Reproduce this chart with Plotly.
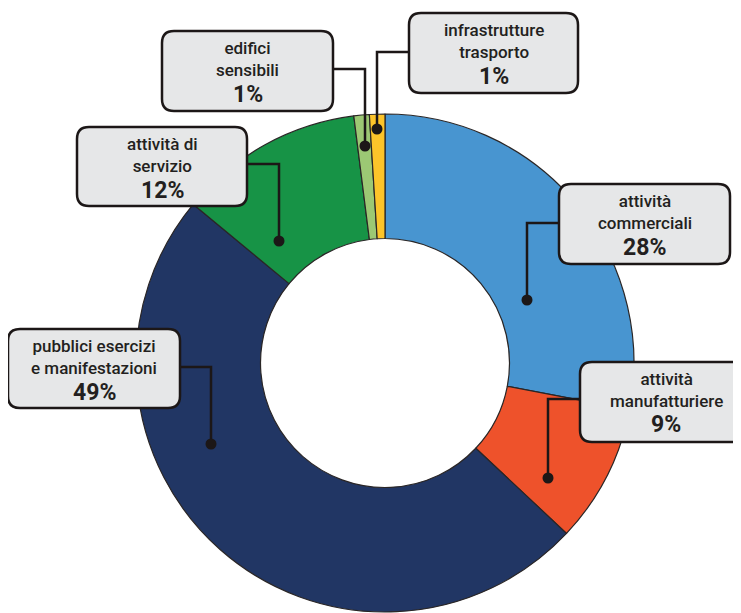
import plotly.graph_objects as go

# Data
categories = ["attività commerciali", "attività manufatturiere", "pubblici esercizi e manifestazioni",
              "attività di servizio", "edifici sensibili", "infrastrutture trasporto"]
line1 = ["attività", "attività", "pubblici esercizi", "attività di", "edifici", "infrastrutture"]
line2 = ["commerciali", "manufatturiere", "e manifestazioni", "servizio", "sensibili", "trasporto"]
values = [28, 9, 49, 12, 1, 1]
colors = ["#4895d0", "#ee522b", "#213664", "#179346", "#9cc874", "#fcc42a"]

# page is 741x613 but the body has an 8px margin, so the figure is drawn smaller and offset
OFF = 8
W, H = 741 - OFF, 613 - OFF
CX, CY, R = 385, 363, 249

# callout layout in page pixels: box (x0, y0, x1, y1), elbow x/y, dot y, side of box for the connector
callouts = [
    dict(box=(559, 184, 730, 264), ex=527, ey=223, dy=300, side="left"),
    dict(box=(580, 362, 752, 442), ex=548, ey=399, dy=478, side="left"),
    dict(box=(8, 329, 180, 408), ex=211, ey=367, dy=444, side="right"),
    dict(box=(77, 127, 247, 206), ex=279, ey=164, dy=241, side="right"),
    dict(box=(162, 31, 333, 111), ex=365, ey=69, dy=146, side="right"),
    dict(box=(409, 13, 578, 93), ex=377, ey=52, dy=129, side="left"),
]


def px(x):
    return (x - OFF) / W


def py(y):
    return 1 - (y - OFF) / H


def rounded_rect(x0, y0, x1, y1, r=12):
    pts = [
        f"M{px(x0 + r)},{py(y0)}",
        f"L{px(x1 - r)},{py(y0)}",
        f"Q{px(x1)},{py(y0)} {px(x1)},{py(y0 + r)}",
        f"L{px(x1)},{py(y1 - r)}",
        f"Q{px(x1)},{py(y1)} {px(x1 - r)},{py(y1)}",
        f"L{px(x0 + r)},{py(y1)}",
        f"Q{px(x0)},{py(y1)} {px(x0)},{py(y1 - r)}",
        f"L{px(x0)},{py(y0 + r)}",
        f"Q{px(x0)},{py(y0)} {px(x0 + r)},{py(y0)}",
        "Z",
    ]
    return " ".join(pts)


fig = go.Figure()
fig.add_trace(go.Pie(
    labels=categories, values=values, sort=False, direction="clockwise", rotation=0,
    hole=0.5, textinfo="none", hoverinfo="label+percent",
    marker=dict(colors=colors, line=dict(color="#2a2626", width=1.2)),
    domain=dict(x=[px(CX - R), px(CX + R)], y=[py(CY + R), py(CY - R)]),
    showlegend=False,
))

shapes = []
annotations = []
FONT = "Roboto, 'Noto Sans', sans-serif"
DARK = "#1c1717"
for c, l1, l2, v in zip(callouts, line1, line2, values):
    x0, y0, x1, y1 = c["box"]
    sx = x0 if c["side"] == "left" else x1
    # connector elbow and dot
    shapes.append(dict(type="path", xref="paper", yref="paper",
                       path=f"M{px(sx)},{py(c['ey'])} L{px(c['ex'])},{py(c['ey'])} L{px(c['ex'])},{py(c['dy'])}",
                       line=dict(color=DARK, width=2.5)))
    shapes.append(dict(type="circle", xref="paper", yref="paper",
                       x0=px(c["ex"] - 5.5), x1=px(c["ex"] + 5.5),
                       y0=py(c["dy"] + 5.5), y1=py(c["dy"] - 5.5),
                       fillcolor=DARK, line=dict(width=0)))
    # label box
    shapes.append(dict(type="path", xref="paper", yref="paper", path=rounded_rect(x0, y0, x1, y1),
                       fillcolor="#e6e7e8", line=dict(color=DARK, width=2.5)))
    xc = (x0 + x1) / 2
    annotations.append(dict(
        x=px(xc), y=py(y0 + 28), xref="paper", yref="paper", showarrow=False,
        text=f"{l1}<br>{l2}", xanchor="center", yanchor="middle", align="center",
        font=dict(family=FONT, size=17, color="#231f20", weight=500),
    ))
    annotations.append(dict(
        x=px(xc), y=py(y0 + 63), xref="paper", yref="paper", showarrow=False,
        text=f"{v}%", xanchor="center", yanchor="middle",
        font=dict(family=FONT, size=23, color="#231f20", weight=700),
    ))

fig.update_layout(
    width=W, height=H, margin=dict(l=0, r=0, t=0, b=0),
    paper_bgcolor="white", plot_bgcolor="white",
    shapes=shapes, annotations=annotations,
)

fig.write_html("out.html")
